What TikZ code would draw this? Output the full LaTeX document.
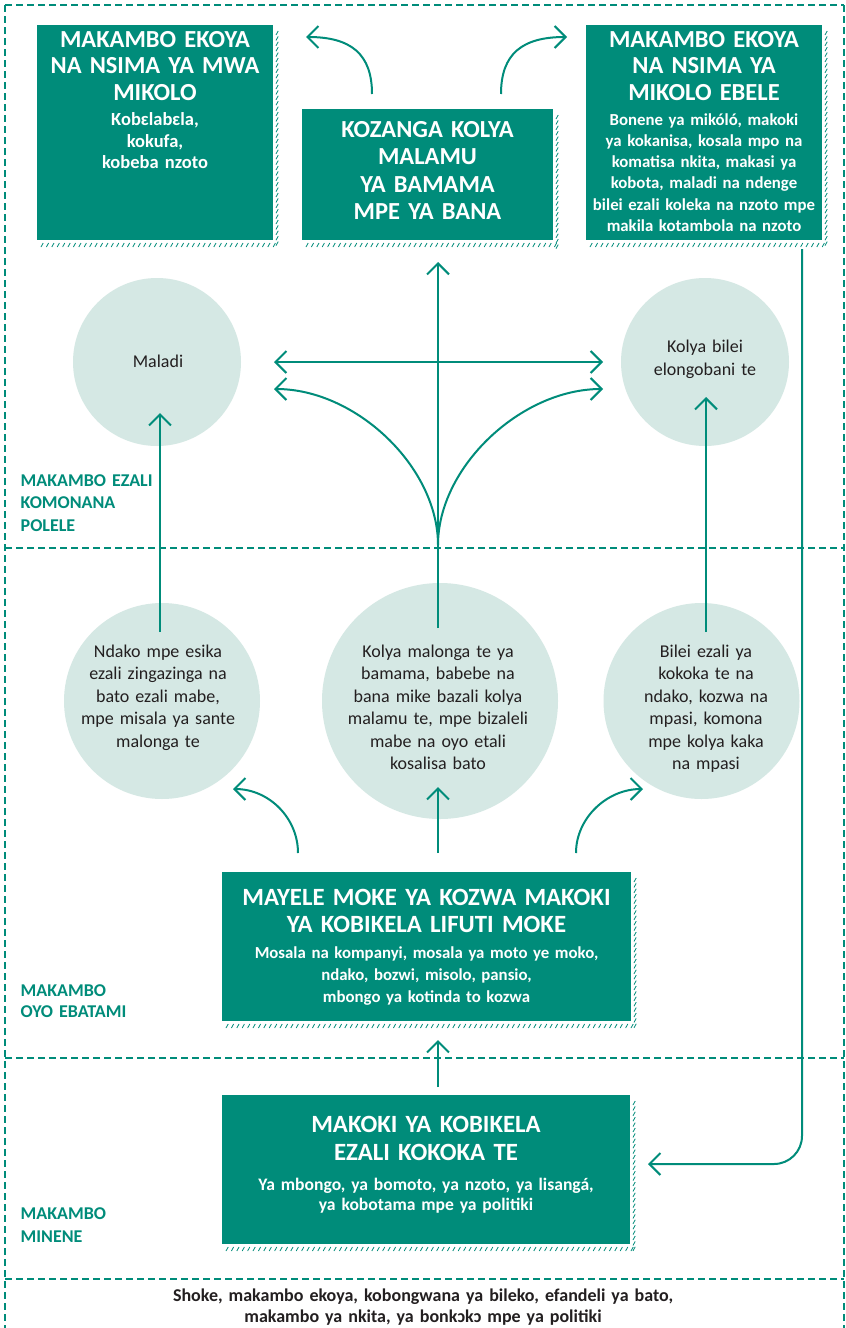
\documentclass[tikz,border=0pt]{standalone}
\usepackage{fontspec}
\setmainfont{Carlito}
\usetikzlibrary{arrows.meta,calc}
\definecolor{tealA}{RGB}{0,140,122}
\definecolor{circA}{RGB}{213,232,228}
\definecolor{txtA}{RGB}{35,31,32}
\newcommand\hatchit[4]{%
  \pgfmathtruncatemacro\hatchN{(#3-#1)/5.4}%
  \foreach \hi in {0,...,\hatchN} {\draw[hatchline] (#1+4+\hi*5.4,#4+7) -- ++(2.2,-4);}%
  \pgfmathtruncatemacro\hatchM{(#4-#2)/5.4}%
  \foreach \hi in {0,...,\hatchM} {\draw[hatchline] (#3+3,#2+10+\hi*5.4) -- ++(2.2,-4);}%
}
\begin{document}
\begin{tikzpicture}[x=1pt,y=-1pt,
  frame/.style={draw=tealA,line width=1.4pt,dash pattern=on 7pt off 4pt},
  hatchline/.style={draw=tealA,line width=0.8pt},
  tbox/.style={rectangle,fill=tealA,inner sep=0pt,outer sep=0pt},
  blob/.style={circle,fill=circA,inner sep=0pt,outer sep=0pt},
  conn/.style={draw=tealA,line width=2pt},
  tip/.style={-{Straight Barb[length=11pt,width=22pt]}},
  dtip/.style={{Straight Barb[length=11pt,width=22pt]}-{Straight Barb[length=11pt,width=22pt]}},
  ttl/.style={font=\fontsize{24.5}{26.5}\selectfont\bfseries,text=white,align=center,inner sep=0pt,anchor=base},
  sub/.style={font=\fontsize{17}{21.5}\selectfont\bfseries,text=white,align=center,inner sep=0pt,anchor=base},
  ctext/.style={font=\fontsize{18}{22.5}\selectfont,text=txtA,align=center,inner sep=0pt,anchor=base,text width=220pt},
  lbl/.style={font=\fontsize{18}{22.5}\selectfont\bfseries,text=tealA,align=left,inner sep=0pt,anchor=base west,text width=200pt},
  ]
\useasboundingbox (0,0) rectangle (846,1328);
\fill[white] (0,0) rectangle (846,1328);
% dashed frame
\draw[frame] (5,5) -- (844,5);
\draw[frame] (5,5) -- (5,1328);
\draw[frame] (844,5) -- (844,1328);
\draw[frame] (5,548) -- (844,548);
\draw[frame] (5,1058) -- (844,1058);
\draw[frame] (5,1279) -- (844,1279);
% circles
\node[blob,minimum size=168pt] (c1) at (157,362) {};
\node[blob,minimum size=168pt] (c2) at (705,362) {};
\node[blob,minimum size=196pt] (c3) at (162,701) {};
\node[blob,minimum size=236pt] (c4) at (440,701) {};
\node[blob,minimum size=196pt] (c5) at (701.5,701) {};
% boxes
\hatchit{37}{25}{273}{240}
\hatchit{302}{109}{553}{240}
\hatchit{586}{25}{822}{240}
\hatchit{222}{872}{631}{1021}
\hatchit{222}{1095}{630}{1244}
\node[tbox,minimum width=236pt,minimum height=215pt] (b1) at (155,132.5) {};
\node[tbox,minimum width=251pt,minimum height=131pt] (b2) at (427.5,174.5) {};
\node[tbox,minimum width=236pt,minimum height=215pt] (b3) at (704,132.5) {};
\node[tbox,minimum width=409pt,minimum height=149pt] (b4) at (426.5,946.5) {};
\node[tbox,minimum width=408pt,minimum height=149pt] (b5) at (426,1169.5) {};
% box texts
\node[ttl,text width=234pt] (b1t) at (155,47) {MAKAMBO EKOYA\\NA NSIMA YA MWA\\MIKOLO};
\node[sub,text width=230pt,font=\fontsize{18.5}{21.5}\selectfont\bfseries] (b1s) at (155,125.5) {Kobɛlabɛla,\\kokufa,\\kobeba nzoto};
\node[ttl,text width=245pt,font=\fontsize{24.5}{27.5}\selectfont\bfseries] (b2t) at (427.5,137) {KOZANGA KOLYA\\MALAMU\\YA BAMAMA\\MPE YA BANA};
\node[ttl,text width=234pt] (b3t) at (704,47) {MAKAMBO EKOYA\\NA NSIMA YA\\MIKOLO EBELE};
\node[sub,text width=236pt,font=\fontsize{16.8}{21.3}\selectfont\bfseries] (b3s) at (704,125) {Bonene ya mikóló, makoki\\ya kokanisa, kosala mpo na\\komatisa nkita, makasi ya\\kobota, maladi na ndenge\\bilei ezali koleka na nzoto mpe\\makila kotambola na nzoto};
\node[ttl,text width=404pt,font=\fontsize{24.8}{27}\selectfont\bfseries] (b4t) at (426.5,905) {MAYELE MOKE YA KOZWA MAKOKI\\YA KOBIKELA LIFUTI MOKE};
\node[sub,text width=404pt,font=\fontsize{16.8}{22}\selectfont\bfseries] (b4s) at (426.5,958) {Mosala na kompanyi, mosala ya moto ye moko,\\ndako, bozwi, misolo, pansio,\\mbongo ya kotinda to kozwa};
\node[ttl,text width=400pt,font=\fontsize{24.8}{28}\selectfont\bfseries] (b5t) at (426,1132) {MAKOKI YA KOBIKELA\\EZALI KOKOKA TE};
\node[sub,text width=400pt,font=\fontsize{17.6}{20.5}\selectfont\bfseries] (b5s) at (426,1190) {Ya mbongo, ya bomoto, ya nzoto, ya lisangá,\\ya kobotama mpe ya politiki};
% circle texts
\node[ctext] (c1t) at (158,367) {Maladi};
\node[ctext] (c2t) at (705,352.5) {Kolya bilei\\elongobani te};
\node[ctext] (c3t) at (158,657) {Ndako mpe esika\\ezali zingazinga na\\bato ezali mabe,\\mpe misala ya sante\\malonga te};
\node[ctext] (c4t) at (438,657) {Kolya malonga te ya\\bamama, babebe na\\bana mike bazali kolya\\malamu te, mpe bizaleli\\mabe na oyo etali\\kosalisa bato};
\node[ctext] (c5t) at (706,657) {Bilei ezali ya\\kokoka te na\\ndako, kozwa na\\mpasi, komona\\mpe kolya kaka\\na mpasi};
% labels
\node[lbl] (l1) at (20.5,486) {MAKAMBO EZALI\\KOMONANA\\POLELE};
\node[lbl,font=\fontsize{18}{21.5}\selectfont\bfseries] (l2) at (20.5,996) {MAKAMBO\\OYO EBATAMI};
\node[lbl,font=\fontsize{18}{23}\selectfont\bfseries] (l3) at (20.5,1219) {MAKAMBO\\MINENE};
\node[font=\fontsize{18}{21}\selectfont\bfseries,text=txtA,align=center,inner sep=0pt,anchor=base,text width=760pt] (foot) at (423,1301) {Shoke, makambo ekoya, kobongwana ya bileko, efandeli ya bato,\\makambo ya nkita, ya bonkɔkɔ mpe ya politiki};
% free ends
\coordinate (tl) at (306,37);
\coordinate (tr) at (567,37);
\coordinate (hub) at (438,545);
\coordinate (ll) at (233,789);
\coordinate (lr) at (643,789);
% connectors
\draw[conn,tip] ($(b2.north)+(-55.5,-15)$) .. controls +(0,-40) and +(45,0) .. (tl);
\draw[conn,tip] ($(b2.north)+(73.5,-15)$) .. controls +(0,-40) and +(-45,0) .. (tr);
\draw[conn,tip] ($(c4.north)+(-2,45)$) -- ($(b2.south)+(10.5,22)$);
\draw[conn,dtip] ($(c1.east)+(33,0)$) -- ($(c2.west)+(-18,0)$);
\draw[conn,tip] (hub) .. controls +(0,-78) and +(82,0) .. ($(c1.east)+(33,27)$);
\draw[conn,tip] (hub) .. controls +(0,-78) and +(-82,0) .. ($(c2.west)+(-18,27)$);
\draw[conn,tip] ($(c3.north)+(-2,29)$) -- ($(c1.south)+(3,-33)$);
\draw[conn,tip] ($(c5.north)+(4.5,29)$) -- ($(c2.south)+(1,-49)$);
\draw[conn,tip] ($(b4.north)+(11.5,-19)$) -- ($(c4.south)+(-2,-32)$);
\draw[conn,tip] ($(b4.north)+(-128.5,-19)$) .. controls +(0,-35) and +(36,0) .. (ll);
\draw[conn,tip] ($(b4.north)+(149.5,-19)$) .. controls +(0,-35) and +(-36,0) .. (lr);
\draw[conn,tip] ($(b5.north)+(12,-8)$) -- ($(b4.south)+(11.5,19)$);
\draw[conn,tip,rounded corners=28pt] ($(b3.south)+(98,9)$) -- ($(b3.south)+(98,924)$) -- ($(b5.east)+(18,-5.5)$);
\end{tikzpicture}
\end{document}
